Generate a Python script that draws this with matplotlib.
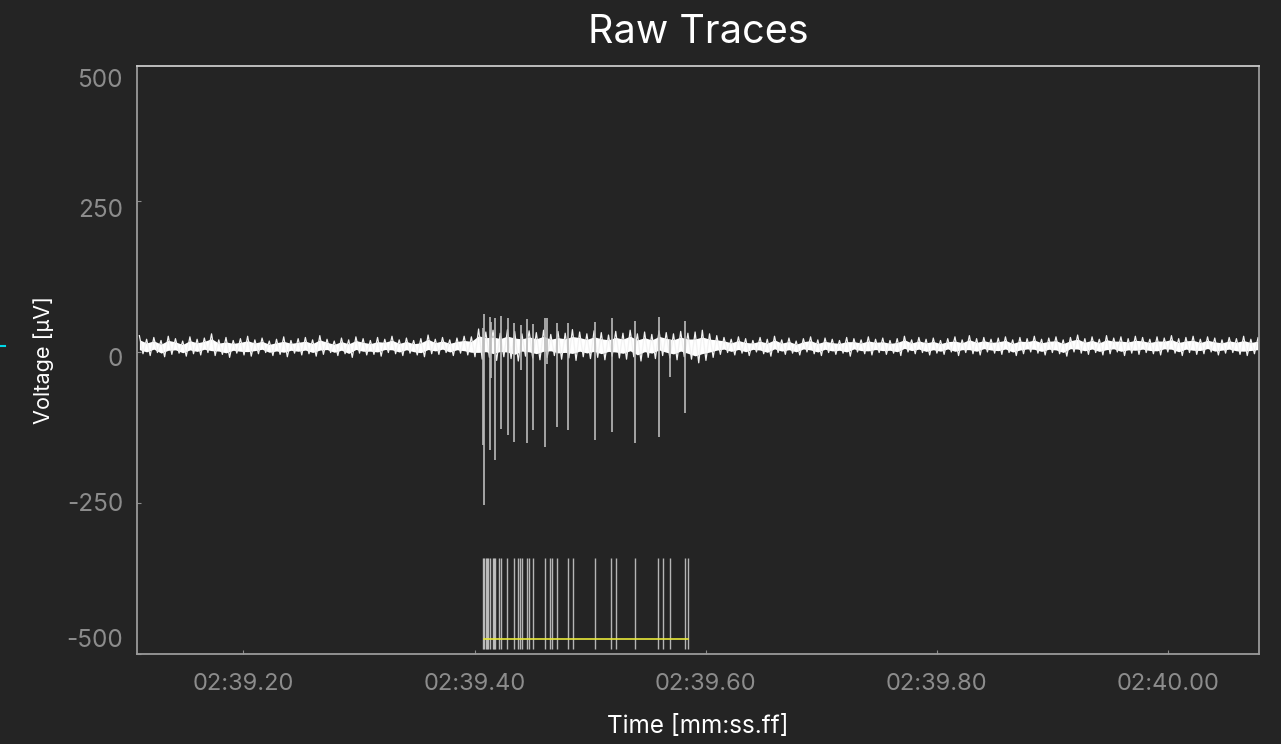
import numpy as np
import matplotlib.pyplot as plt
from matplotlib.transforms import ScaledTranslation

plt.rcParams['font.family'] = ['Inter', 'DejaVu Sans']

# time in seconds after 02:00
t_start, t_end = 159.108, 160.079

# noise envelope of the raw trace (µV): before, during and after the burst
hi_pre = [27, 21, 24, 19, 26, 22, 18, 25, 21, 23, 30, 20, 24, 19, 22, 26,
          20, 23, 18, 21, 25, 19, 22, 24, 20, 27, 21, 18, 23, 20, 25, 22,
          19, 24, 21, 26, 20, 23, 19, 22, 28, 21, 24, 20, 23, 26, 25]
hi_burst = [38, 33, 36, 31, 37, 34, 30, 35, 32, 36, 29, 34, 31, 37, 33, 30,
            35, 32, 28, 34, 31, 36, 30, 33, 29, 35, 32, 30, 34, 31, 33, 36]
hi_post = [30, 27, 24, 21, 25, 22, 19, 24, 21, 26, 20, 23, 18, 22, 25, 20,
           23, 21, 19, 24, 22, 20, 25, 21, 23, 19, 22, 26, 20, 24, 21, 23,
           19, 22, 25, 20, 27, 22, 24, 21, 23, 25, 20, 24, 22, 26, 21, 23,
           25, 20, 24, 28, 22, 25, 21, 27, 23, 25, 22, 26, 24, 21, 25, 23,
           27, 22, 24, 26, 21, 25, 23, 20, 24, 22, 26, 21, 24]
lo_pre = [-3, -6, -1, -8, -4, -2, -7, -3, -5, -1, -6, -4, -9, -2, -5, -7,
          -3, -1, -6, -4, -8, -2, -5, -3, -7, -4, -1, -6, -3, -9, -2, -5,
          -4, -7, -1, -3, -6, -2, -5, -8, -3, -4, -1, -6, -2, -5, -8]
lo_burst = [-12, -9, -14, -8, -11, -15, -7, -10, -13, -9, -6, -12, -10, -14,
            -8, -11, -9, -13, -7, -10, -12, -8, -15, -9, -11, -6, -10, -13,
            -8, -12, -18, -14]
lo_post = [-9, -4, -1, -5, -2, -6, 0, -3, -7, -1, -4, -2, -5, 0, -3, -6,
           -1, -4, -2, -7, 0, -3, -5, -1, -4, -2, -6, 0, -3, -1, -5, -2,
           -4, 0, -6, -1, -3, -5, 0, -2, -4, -1, -6, -3, 0, -2, -5, -1,
           -3, -7, 0, -2, -4, -1, -5, -3, 0, -6, -2, -4, -1, -3, -5, 0,
           -2, -6, -1, -4, -3, 0, -5, -2, -1, -4, -6, -3, -2]

# spike waveforms in the trace: time, trough, peak (µV)
spk_t = [159.407, 159.408, 159.413, 159.414, 159.418, 159.423, 159.429,
         159.434, 159.440, 159.445, 159.451, 159.461, 159.463, 159.471,
         159.481, 159.504, 159.519, 159.539, 159.560, 159.569, 159.582]
spk_lo = [-154, -253, -162, -43, -179, -128, -137, -149, -30, -151, -129,
          -157, -20, -125, -129, -146, -132, -151, -141, -41, -101]
spk_hi = [40, 63, 58, 50, 56, 60, 56, 48, 45, 55, 47, 56, 56, 48, 48, 50,
          56, 52, 58, 20, 52]

# detected spike times (raster)
raster_t = [159.407, 159.408, 159.410, 159.411, 159.412, 159.413, 159.416,
            159.417, 159.418, 159.421, 159.423, 159.428, 159.434, 159.438,
            159.439, 159.441, 159.445, 159.447, 159.451, 159.461, 159.465,
            159.467, 159.471, 159.481, 159.485, 159.504, 159.518, 159.522,
            159.539, 159.559, 159.563, 159.569, 159.582, 159.585]
raster_lo, raster_hi = -492, -341
burst_t = [159.408, 159.585]
burst_v = -475

xticks = [159.2, 159.4, 159.6, 159.8, 160.0]
xtick_labels = ['02:39.20', '02:39.40', '02:39.60', '02:39.80', '02:40.00']
yticks = [-500, -250, 0, 250]
ytick_labels = ['-500', '-250', '0', '250']
ylabel_shift = [16, 1, -5, -7]   # label nudges in px, as in the reference

bg = '#242424'
grey = '#8c8c8c'

env_hi = np.array(hi_pre + hi_burst + hi_post, dtype=float)
env_lo = np.array(lo_pre + lo_burst + lo_post, dtype=float)
env_t = np.linspace(159.110, 160.078, len(env_hi))
step = env_t[1] - env_t[0]
mid = (env_hi + env_lo) / 2
half = (env_hi - env_lo) / 2
zig_t = np.column_stack([env_t, env_t + step / 2]).ravel()
zig_v = np.column_stack([env_hi, env_lo]).ravel()

fig = plt.figure(figsize=(12.81, 7.44), dpi=100, facecolor=bg)
ax = fig.add_axes([0.107, 0.121, 0.876, 0.790], facecolor=bg)

ax.fill_between(env_t, mid - 0.55 * half, mid + 0.55 * half, color='white', lw=0)
ax.plot(zig_t, zig_v, color='#f2f2f2', lw=0.9)
ax.vlines(spk_t, spk_lo, spk_hi, color='#bbbbbb', lw=1.2)
ax.vlines(raster_t, raster_lo, raster_hi, color='#d0d0d0', lw=1.0, alpha=0.85)
ax.plot(burst_t, [burst_v, burst_v], color='#e8e83a', lw=1.2)

ax.set_xlim(t_start, t_end)
ax.set_ylim(-500, 473)
ax.set_xticks(xticks)
ax.set_xticklabels(xtick_labels)
ax.set_yticks(yticks)
ax.set_yticklabels(ytick_labels)
ax.tick_params(direction='in', length=3, color=grey, labelcolor=grey)
ax.tick_params(axis='x', pad=14, labelsize=17)
ax.tick_params(axis='y', pad=10, labelsize=17.5)
for lab, dy in zip(ax.get_yticklabels(), ylabel_shift):
    lab.set_transform(lab.get_transform() + ScaledTranslation(0, dy / 100, fig.dpi_scale_trans))
ax.text(-0.013, 1.0, '500', transform=ax.transAxes + ScaledTranslation(0, -0.03, fig.dpi_scale_trans),
        ha='right', va='top', color=grey, fontsize=17.5)
for side in ['top', 'bottom', 'left', 'right']:
    ax.spines[side].set_color('#9a9a9a')
    ax.spines[side].set_linewidth(1.3)
ax.spines['top'].set_color('#c8c8c8')

ax.set_title('Raw Traces', color='white', fontsize=28.5, pad=17)
ax.set_xlabel('Time [mm:ss.ff]', color='white', fontsize=17.5, labelpad=14)
ax.set_ylabel('Voltage [µV]', color='white', fontsize=15.6, labelpad=9)

# small cyan marker at the left edge
fig.add_artist(plt.Line2D([0, 0.004], [1 - 346 / 744] * 2, color='#00d8e8', lw=1.5))

fig.savefig('out.png', dpi=100, facecolor=bg)
